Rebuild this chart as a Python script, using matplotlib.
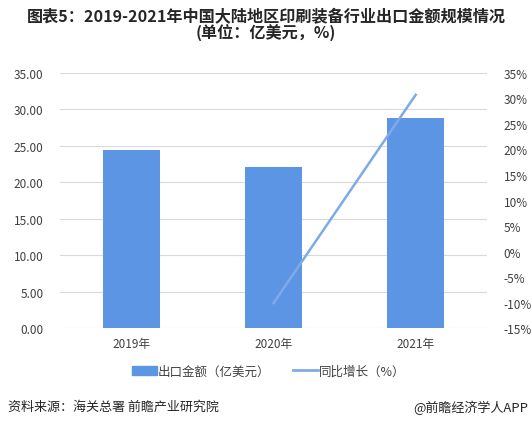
import matplotlib
matplotlib.use("Agg")
import matplotlib.pyplot as plt
from matplotlib.patches import Patch
from matplotlib.lines import Line2D

plt.rcParams['font.family'] = ['Noto Sans CJK SC', 'DejaVu Sans']

# data
years = ['2019年', '2020年', '2021年']
export_value = [24.4, 22.1, 28.8]          # 亿美元
growth_years = ['2020年', '2021年']
growth_rate = [-10.1, 30.7]                # %

bar_color = '#5B95E3'
line_color = '#7FAAE8'
grid_color = '#D9D9D9'
text_color = '#404040'

fig = plt.figure(figsize=(5.32, 4.27), dpi=100)
ax = fig.add_axes([0.113, 0.229, 0.802, 0.598])

x = range(len(years))
ax.bar(x, export_value, width=0.4, color=bar_color, zorder=2)
ax.set_xlim(-0.5, len(years) - 0.5)
ax.set_ylim(0, 35)
ax.set_yticks([0, 5, 10, 15, 20, 25, 30, 35])
ax.set_yticklabels([f'{v:.2f}' for v in ax.get_yticks()])
ax.set_xticks(list(x))
ax.set_xticklabels(years)
ax.yaxis.grid(True, color=grid_color, linewidth=0.8, zorder=0)
ax.set_axisbelow(True)
for s in ax.spines.values():
    s.set_visible(False)
ax.tick_params(axis='both', length=0, labelsize=8.5, colors=text_color)
ax.tick_params(axis='y', pad=12)
ax.tick_params(axis='x', pad=6)

ax2 = ax.twinx()
gx = [years.index(y) for y in growth_years]
ax2.plot(gx, growth_rate, color=line_color, linewidth=1.8, zorder=3)
ax2.set_ylim(-15, 35)
ax2.set_yticks(range(-15, 40, 5))
ax2.set_yticklabels([f'{v}%' for v in range(-15, 40, 5)])
for s in ax2.spines.values():
    s.set_visible(False)
ax2.tick_params(axis='y', length=0, labelsize=8.5, colors=text_color, pad=12)

fig.text(0.5, 0.962, '图表5：2019-2021年中国大陆地区印刷装备行业出口金额规模情况',
         ha='center', va='center', fontsize=11.6, fontweight='bold', color='#262626')
fig.text(0.5, 0.922, '(单位：亿美元，%)',
         ha='center', va='center', fontsize=11.6, fontweight='bold', color='#262626')

handles = [Patch(color=bar_color), Line2D([], [], color=line_color, linewidth=2)]
fig.legend(handles, ['出口金额（亿美元）', '同比增长（%）'], loc='center',
           bbox_to_anchor=(0.505, 0.128), ncol=2, frameon=False, fontsize=9,
           handlelength=2.0, handletextpad=0.1, columnspacing=1.8,
           labelcolor=text_color)

fig.text(0.015, 0.045, '资料来源：海关总署 前瞻产业研究院', ha='left', va='center',
         fontsize=9.4, color='#262626')
fig.text(0.993, 0.045, '@前瞻经济学人APP', ha='right', va='center',
         fontsize=9.4, color='#262626')

fig.savefig('out.png', dpi=100)
